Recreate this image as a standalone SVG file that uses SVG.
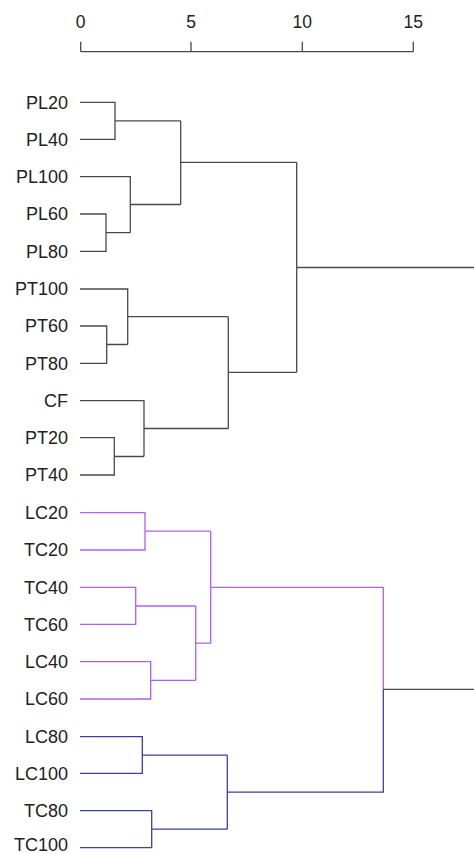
<svg xmlns="http://www.w3.org/2000/svg" width="474" height="854" viewBox="0 0 474 854">
<style>
text{font-family:"Liberation Sans",Arial,sans-serif;fill:#222}
.lab{font-size:18px;text-anchor:end}
.ax{font-size:17.5px;text-anchor:middle}
.k{fill:none;stroke:#4a4a4a;stroke-width:1.3}
.p{fill:none;stroke:#b25ef0;stroke-width:1.3}
.b{fill:none;stroke:#3e3ea6;stroke-width:1.3}
</style>
<rect width="474" height="854" fill="#fff"/>
<g id="axis">
<path class="k" d="M80.7 51.7H413.3M80.7 41.7V51.7M191 41.7V51.7M302.3 41.7V51.7M413.3 41.7V51.7"/>
<text class="ax" x="80.7" y="28.3">0</text>
<text class="ax" x="191" y="28.3">5</text>
<text class="ax" x="302.3" y="28.3">10</text>
<text class="ax" x="413.3" y="28.3">15</text>
</g>
<g id="leaves">
<g id="PL20"><text class="lab" x="68" y="108.5">PL20</text></g>
<g id="PL40"><text class="lab" x="68" y="145.7">PL40</text></g>
<g id="PL100"><text class="lab" x="68" y="183">PL100</text></g>
<g id="PL60"><text class="lab" x="68" y="220.2">PL60</text></g>
<g id="PL80"><text class="lab" x="68" y="257.5">PL80</text></g>
<g id="PT100"><text class="lab" x="68" y="295.2">PT100</text></g>
<g id="PT60"><text class="lab" x="68" y="332.2">PT60</text></g>
<g id="PT80"><text class="lab" x="68" y="369.5">PT80</text></g>
<g id="CF"><text class="lab" x="68" y="406.9">CF</text></g>
<g id="PT20"><text class="lab" x="68" y="443.9">PT20</text></g>
<g id="PT40"><text class="lab" x="68" y="481.2">PT40</text></g>
<g id="LC20"><text class="lab" x="68" y="518.9">LC20</text></g>
<g id="TC20"><text class="lab" x="68" y="556.2">TC20</text></g>
<g id="TC40"><text class="lab" x="68" y="593.5">TC40</text></g>
<g id="TC60"><text class="lab" x="68" y="630.5">TC60</text></g>
<g id="LC40"><text class="lab" x="68" y="667.9">LC40</text></g>
<g id="LC60"><text class="lab" x="68" y="705.2">LC60</text></g>
<g id="LC80"><text class="lab" x="68" y="742.9">LC80</text></g>
<g id="LC100"><text class="lab" x="68" y="779.5">LC100</text></g>
<g id="TC80"><text class="lab" x="68" y="816.9">TC80</text></g>
<g id="TC100"><text class="lab" x="68" y="851">TC100</text></g>
</g>
<g id="connectors">
<path class="k" d="M80 102.3H115V139.3H80M115 120.8H180.7"/>
<path class="k" d="M80 214H106V251.3H80M106 232.7H130.3"/>
<path class="k" d="M80 176.7H130.3V232.7M130.3 204.5H180.7"/>
<path class="k" d="M180.7 120.8V204.5M180.7 162.3H296.7"/>
<path class="k" d="M80 326H106.7V363.3H80M106.7 344.5H127.7"/>
<path class="k" d="M80 289H127.7V344.5M127.7 316.7H228.3"/>
<path class="k" d="M80 437.7H114.3V475H80M114.3 456.5H144"/>
<path class="k" d="M80 400.7H144V456.5M144 428.5H228.3"/>
<path class="k" d="M228.3 316.7V428.5M228.3 372.3H296.7"/>
<path class="k" d="M296.7 162.3V372.3M296.7 267.5H474"/>
<path class="p" d="M80 512.7H145V550H80M145 531.2H210.7"/>
<path class="p" d="M80 587.3H135.7V624.3H80M135.7 606H195.7"/>
<path class="p" d="M80 661.7H150.7V699H80M150.7 680.3H195.7"/>
<path class="p" d="M195.7 606V680.3M195.7 643.2H210.7"/>
<path class="p" d="M210.7 531.2V643.2M210.7 587.3H383.3V689.3"/>
<path class="b" d="M80 736.7H142.3V773.3H80M142.3 755.2H227.3"/>
<path class="b" d="M80 810.7H151.7V847.7H80M151.7 829.2H227.3"/>
<path class="b" d="M227.3 755.2V829.2M227.3 792.2H383.3V689.3"/>
<path class="k" d="M383.3 689.3H474"/>
</g>
</svg>
